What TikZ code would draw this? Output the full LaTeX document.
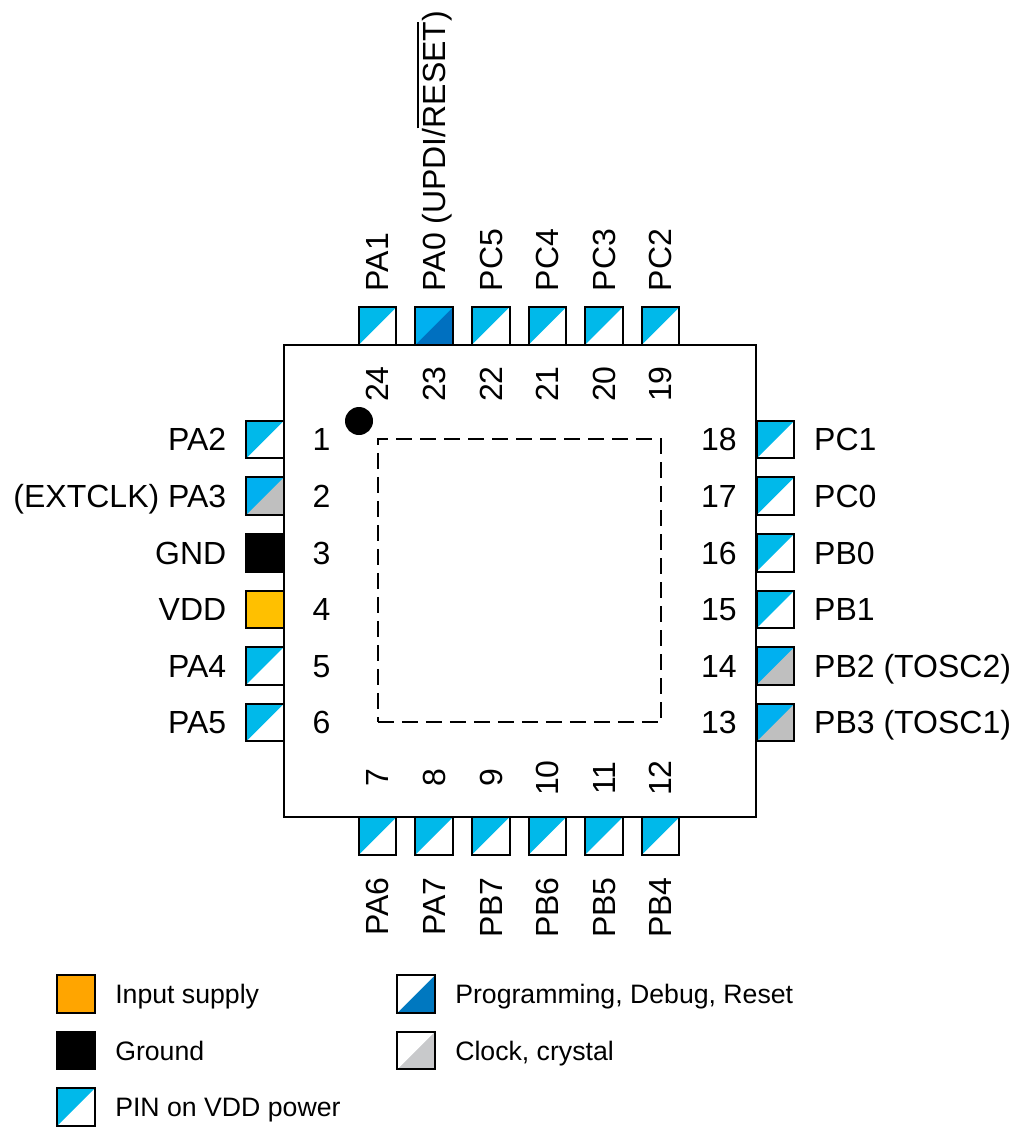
\documentclass[tikz,border=0pt]{standalone}
\usepackage{amsmath}
\usepackage{fontspec}
\setmainfont{Liberation Sans}
\usepackage{tikz}
\usetikzlibrary{positioning}

\definecolor{vddblue}{HTML}{00B9EA}
\definecolor{sigblue}{HTML}{00B0F0}
\definecolor{progblue}{HTML}{0070C0}
\definecolor{keyblue}{HTML}{0078C0}
\definecolor{clkgrey}{HTML}{BFBFBF}
\definecolor{keygrey}{HTML}{C8C9CB}
\definecolor{vddyellow}{HTML}{FFC000}
\definecolor{supplyorange}{HTML}{FFA500}
\newcommand{\barred}[1]{\vbox{\hrule height 1.4pt \kern 3.5pt \hbox{#1}}}

\begin{document}
\begin{tikzpicture}[x=0.75pt,y=-0.75pt,node distance=42.45pt,
    pin base/.style={draw,line width=1.5pt,minimum size=28.2pt,inner sep=0pt,on grid},
    two tone/.style 2 args={pin base,fill=#2,path picture={
        \fill[#1] (path picture bounding box.south west) -- (path picture bounding box.north west)
          -- (path picture bounding box.north east) -- cycle;}},
    io node/.style={two tone={vddblue}{white}},
    prog node/.style={two tone={sigblue}{progblue}},
    clk node/.style={two tone={sigblue}{clkgrey}},
    pin text/.style={inner sep=0pt,font=\fontsize{24}{28}\selectfont,text height=17.2pt,text depth=0pt},
    num node/.style={pin text,on grid},
    key text/.style={inner sep=0pt,font=\fontsize{20}{24}\selectfont,text height=14.3pt,text depth=0pt,right=14.4pt of #1}]
  \useasboundingbox (0,0) rectangle (1014,1129);

  %left side%
  \node[io node] (1) at (265,439.5) {};
  \node[clk node] (2) [below=of 1] {};
  \node[pin base,fill=black] (3) [below=of 2] {};
  \node[pin base,fill=vddyellow] (4) [below=of 3] {};
  \node[io node] (5) [below=of 4] {};
  \node[io node] (6) [below=of 5] {};

  %bottom side%
  \node[io node] (7) at (377.5,836) {};
  \node[io node] (8) [right=of 7] {};
  \node[io node] (9) [right=of 8] {};
  \node[io node] (10) [right=of 9] {};
  \node[io node] (11) [right=of 10] {};
  \node[io node] (12) [right=of 11] {};

  %right side%
  \node[io node] (18) at (775.5,439.5) {};
  \node[io node] (17) [below=of 18] {};
  \node[io node] (16) [below=of 17] {};
  \node[io node] (15) [below=of 16] {};
  \node[clk node] (14) [below=of 15] {};
  \node[clk node] (13) [below=of 14] {};

  %top side%
  \node[io node] (24) at (377.5,326) {};
  \node[prog node] (23) [right=of 24] {};
  \node[io node] (22) [right=of 23] {};
  \node[io node] (21) [right=of 22] {};
  \node[io node] (20) [right=of 21] {};
  \node[io node] (19) [right=of 20] {};

  %package%
  \node[draw,line width=1.5pt,minimum size=354pt,inner sep=0pt] (chip) at (520,581) {};
  \node[draw,line width=1.3pt,dash pattern=on 12pt off 6pt,minimum size=212.5pt,inner sep=0pt] (pad) at (519.5,580.5) {};
  \node[circle,fill=black,minimum size=21pt,inner sep=0pt] (dot) at (359,421) {};

  %pin numbers%
  \node[num node] (n1) [right=of 1] {1};
  \node[num node] (n2) [right=of 2] {2};
  \node[num node] (n3) [right=of 3] {3};
  \node[num node] (n4) [right=of 4] {4};
  \node[num node] (n5) [right=of 5] {5};
  \node[num node] (n6) [right=of 6] {6};
  \node[num node,rotate=90] (n7) [above=43.5pt of 7] {7};
  \node[num node,rotate=90] (n8) [above=43.5pt of 8] {8};
  \node[num node,rotate=90] (n9) [above=43.5pt of 9] {9};
  \node[num node,rotate=90] (n10) [above=43.5pt of 10] {10};
  \node[num node,rotate=90] (n11) [above=43.5pt of 11] {11};
  \node[num node,rotate=90] (n12) [above=43.5pt of 12] {12};
  \node[num node] (n13) [left=of 13] {13};
  \node[num node] (n14) [left=of 14] {14};
  \node[num node] (n15) [left=of 15] {15};
  \node[num node] (n16) [left=of 16] {16};
  \node[num node] (n17) [left=of 17] {17};
  \node[num node] (n18) [left=of 18] {18};
  \node[num node,rotate=90] (n19) [below=43.5pt of 19] {19};
  \node[num node,rotate=90] (n20) [below=43.5pt of 20] {20};
  \node[num node,rotate=90] (n21) [below=43.5pt of 21] {21};
  \node[num node,rotate=90] (n22) [below=43.5pt of 22] {22};
  \node[num node,rotate=90] (n23) [below=43.5pt of 23] {23};
  \node[num node,rotate=90] (n24) [below=43.5pt of 24] {24};

  %pin names%
  \node[pin text] (pa2) [left=14pt of 1,anchor=east] {PA2};
  \node[pin text] (pa3) [left=14pt of 2,anchor=east] {(EXTCLK) PA3};
  \node[pin text] (gnd) [left=14pt of 3,anchor=east] {GND};
  \node[pin text] (vdd) [left=14pt of 4,anchor=east] {VDD};
  \node[pin text] (pa4) [left=14pt of 5,anchor=east] {PA4};
  \node[pin text] (pa5) [left=14pt of 6,anchor=east] {PA5};
  \node[pin text,rotate=90] (pa6) [below=16pt of 7,anchor=east] {PA6};
  \node[pin text,rotate=90] (pa7) [below=16pt of 8,anchor=east] {PA7};
  \node[pin text,rotate=90] (pb7) [below=16pt of 9,anchor=east] {PB7};
  \node[pin text,rotate=90] (pb6) [below=16pt of 10,anchor=east] {PB6};
  \node[pin text,rotate=90] (pb5) [below=16pt of 11,anchor=east] {PB5};
  \node[pin text,rotate=90] (pb4) [below=16pt of 12,anchor=east] {PB4};
  \node[pin text] (pb3) [right=14pt of 13,anchor=west] {PB3 (TOSC1)};
  \node[pin text] (pb2) [right=14pt of 14,anchor=west] {PB2 (TOSC2)};
  \node[pin text] (pb1) [right=14pt of 15,anchor=west] {PB1};
  \node[pin text] (pb0) [right=14pt of 16,anchor=west] {PB0};
  \node[pin text] (pc0) [right=14pt of 17,anchor=west] {PC0};
  \node[pin text] (pc1) [right=14pt of 18,anchor=west] {PC1};
  \node[pin text,rotate=90] (pc2) [above=11pt of 19,anchor=west] {PC2};
  \node[pin text,rotate=90] (pc3) [above=11pt of 20,anchor=west] {PC3};
  \node[pin text,rotate=90] (pc4) [above=11pt of 21,anchor=west] {PC4};
  \node[pin text,rotate=90] (pc5) [above=11pt of 22,anchor=west] {PC5};
  \node[pin text,rotate=90] (pa0) [above=11pt of 23,anchor=west] {PA0 (UPDI/\barred{RESET})};
  \node[pin text,rotate=90] (pa1) [above=11pt of 24,anchor=west] {PA1};

  %key%
  \node[pin base,fill=supplyorange] (k1) at (76,994) {};
  \node[pin base,fill=black] (k2) [below=of k1] {};
  \node[two tone={vddblue}{white}] (k3) [below=of k2] {};
  \node[two tone={white}{keyblue}] (k4) at (416,994) {};
  \node[two tone={white}{keygrey}] (k5) [below=of k4] {};
  \node[key text=k1] (t1) {Input supply};
  \node[key text=k2] (t2) {Ground};
  \node[key text=k3] (t3) {PIN on VDD power};
  \node[key text=k4] (t4) {Programming, Debug, Reset};
  \node[key text=k5] (t5) {Clock, crystal};
\end{tikzpicture}
\end{document}
